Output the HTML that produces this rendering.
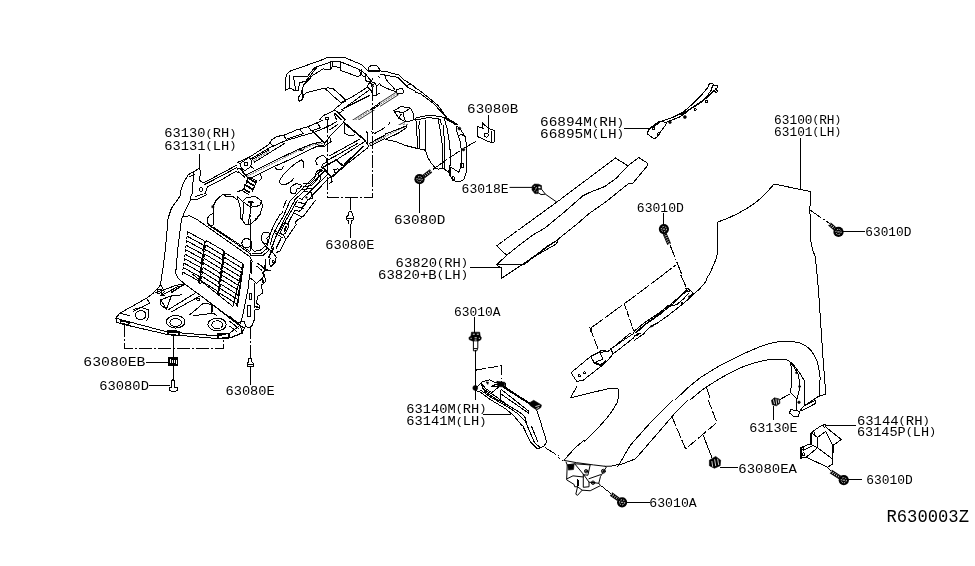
<!DOCTYPE html>
<html><head><meta charset="utf-8">
<style>
html,body{margin:0;padding:0;background:#fff;}
body{width:975px;height:566px;overflow:hidden;font-family:"Liberation Sans",sans-serif;}
svg{display:block;position:absolute;left:0;top:0;}
svg *{vector-effect:non-scaling-stroke;}
.l{shape-rendering:crispEdges;fill:none;stroke:#000;stroke-width:1;stroke-linejoin:round;stroke-linecap:round;}
.t{fill:none;stroke:#000;stroke-width:0.8;}
.d{shape-rendering:crispEdges;fill:none;stroke:#000;stroke-width:1;stroke-dasharray:13 2 2 2;}
.f{fill:#000;stroke:#000;stroke-width:0.6;}
.w{fill:#fff;stroke:#000;stroke-width:1;stroke-linejoin:round;}
text{font-family:"Liberation Mono",monospace;fill:#000;}
svg{will-change:transform;transform:translateZ(0);}
</style></head><body>
<svg width="975" height="566" viewBox="0 0 975 566">
<rect width="975" height="566" fill="#fff"/>
<defs>
<clipPath id="cp_L1" clipPathUnits="userSpaceOnUse"><polygon points="270,40 416,40 416,144 270,144"/></clipPath>
<clipPath id="cp_L2" clipPathUnits="userSpaceOnUse"><polygon points="415,60 560,60 560,164 415,164"/></clipPath>
<clipPath id="cp_L3" clipPathUnits="userSpaceOnUse"><polygon points="140,95 270,95 270,144 290,144 290,194 140,194"/></clipPath>
<clipPath id="cp_L4" clipPathUnits="userSpaceOnUse"><polygon points="290,144 410,144 410,164 452,164 452,224 290,224"/></clipPath>
<clipPath id="cp_L5" clipPathUnits="userSpaceOnUse"><polygon points="95,194 262,194 262,274 95,274"/></clipPath>
<clipPath id="cp_L6" clipPathUnits="userSpaceOnUse"><polygon points="262,194 290,194 290,224 392,224 392,274 262,274"/></clipPath>
<clipPath id="cp_L9" clipPathUnits="userSpaceOnUse"><polygon points="80,354 262,354 262,430 80,430"/></clipPath>
<clipPath id="cp_R5" clipPathUnits="userSpaceOnUse"><polygon points="634,300 880,300 880,442 744,442 744,400 634,400"/></clipPath>
<clipPath id="cp_R2" clipPathUnits="userSpaceOnUse"><polygon points="470,212 714,212 714,300 634,300 634,332 470,332"/></clipPath>
<clipPath id="cp_N1" clipPathUnits="userSpaceOnUse"><polygon points="237,120 392,120 392,214 237,214"/></clipPath>
<clipPath id="cp_N2" clipPathUnits="userSpaceOnUse"><polygon points="385,125 477,125 477,183 385,183"/></clipPath>
<clipPath id="cp_S3" clipPathUnits="userSpaceOnUse"><polygon points="465,379 550,379 550,426 465,426"/></clipPath>
<clipPath id="cp_S4" clipPathUnits="userSpaceOnUse"><polygon points="610,275 710,275 710,333 610,333"/></clipPath>
<clipPath id="cp_N5" clipPathUnits="userSpaceOnUse"><polygon points="280,52 380,52 380,110 280,110"/></clipPath>
<clipPath id="cp_N6" clipPathUnits="userSpaceOnUse"><polygon points="250,214 283,214 283,200 325,200 325,258 250,258"/></clipPath>
<clipPath id="cp_S7" clipPathUnits="userSpaceOnUse"><polygon points="558,456 612,456 612,497 558,497"/></clipPath>
<clipPath id="cp_L7" clipPathUnits="userSpaceOnUse"><polygon points="90,274 300,274 300,354 90,354"/></clipPath>
</defs>
<g clip-path="url(#cp_L1)">
<g transform="translate(270,50) scale(0.16615)">
<!-- flap outer -->
<path class="l" d="M95,245 L95,150 L120,125 L350,45 L445,45 L520,70 L588,112"/>
<path class="l" d="M590,120 L592,100 L612,92 L640,95 L652,125 L640,135"/>
<path class="l" d="M652,125 L700,130 L780,152 L805,180 L850,205 L900,250 L975,300"/>
<path class="l" d="M640,140 L690,150 L770,165 L800,195 L830,225 L880,250 L975,325"/>
<path class="l" d="M690,150 L700,180 L750,235"/>
<path class="l" d="M655,205 L700,230 L755,250"/>
<path class="l" d="M800,195 L820,215 L850,205"/>
<!-- flap left/bottom -->
<path class="l" d="M95,245 L150,240 L140,165 L235,150 L270,108 L365,72 L445,72 L520,95 L575,125 L612,155 L640,185"/>
<path class="l" d="M150,240 L175,250 L180,205 L215,190 L240,160"/>
<path class="l" d="M170,275 L195,260 L198,292 L175,310 Z"/>
<path class="l" d="M195,262 L215,250 L300,232 L345,228 L378,240 L460,300"/>
<path class="l" d="M350,250 L435,312"/>
<path class="l" d="M365,72 L365,102 L383,100 L383,74"/>
<path class="l" d="M425,75 L425,118 L520,155 L548,150 L545,108"/>
<path class="l" d="M575,127 L575,185 L598,197"/>
<!-- mount hole -->
<path class="l" d="M590,215 L600,195 L640,190 L655,212 L655,270 L630,280 L612,245 L592,232 Z"/>
<circle class="l" cx="618" cy="215" r="10"/><circle class="f" cx="618" cy="215" r="4"/>
<!-- diagonal beams -->
<path class="l" d="M395,362 L588,222 M420,378 L605,248 M440,352 L596,238" />
<path class="l" d="M400,368 L580,548 M395,385 L440,430" />
<path class="l" style="stroke-width:1.5" d="M440,440 L560,548"/>
<path class="l" d="M580,490 L580,560 L600,548 L600,490"/>
<path class="l" style="stroke-width:0.7;stroke-dasharray:1 2" d="M500,430 L765,262"/>
<path class="l" style="stroke-width:0.8" d="M496,423 L758,255 M506,438 L772,270"/>
<path class="l" d="M760,238 L800,230 L802,258 L766,266 Z"/>
<path class="l" style="stroke-width:0.7;stroke-dasharray:1 2" d="M612,548 L820,440"/>
<path class="l" style="stroke-width:0.8" d="M606,540 L813,432 M620,556 L827,448"/>
<!-- block -->
<path class="l" d="M745,365 L790,340 L845,350 L865,390 L860,425 L815,432 L775,410 Z"/>
<path class="l" d="M745,365 L800,378 L845,350 M800,378 L815,432 M775,410 L790,385"/>
<!-- right side -->
<path class="l" d="M870,420 L975,398 M880,435 L975,412"/>
<path class="l" d="M885,440 L885,566 M905,438 L905,566 M935,430 L940,566"/>
<!-- lower-left arm -->
<path class="l" d="M0,545 L40,520 L100,500 L230,450 L300,420 L320,395 L392,362"/>
<path class="l" d="M60,566 L100,530 L180,492 L250,470 L300,450"/>
<path class="l" d="M180,492 L200,515 M240,465 L265,490 M100,530 L130,550"/>
<path class="l" d="M200,515 L300,470 L350,450 L430,440"/>
<path class="l" style="stroke-width:1.5" d="M265,490 L330,560 M350,470 L420,455"/>
<path class="l" d="M335,405 L350,405 L350,418 L335,418 Z M345,418 L345,470"/>
<path class="l" d="M385,380 L400,420 L385,440"/>
<path class="l" d="M340,520 L440,440 M355,535 L450,450 M330,566 L345,520"/>
<!-- hooks -->
<path class="l" d="M600,490 L622,500 L700,458 L715,435"/>
<path class="l" d="M450,440 L450,500 L470,520 L515,508"/>
<path class="d" d="M618,228 L618,566"/>
</g>
</g>
<g clip-path="url(#cp_L2)">
<g transform="translate(390,70) scale(0.16615)">
<path class="l" d="M130,90 L200,140 L290,215 L345,290 L395,320 L430,355"/>
<path class="l" style="stroke-width:1.6" d="M330,285 L380,318 L425,352"/>
<path class="l" d="M90,125 L180,140 L260,200 L340,285"/>
<path class="l" d="M150,290 L230,272 L310,280 L335,295 L380,318"/>
<path class="l" d="M150,302 L230,286 L300,296"/>
<path class="l" d="M160,310 L165,470 M180,308 L180,475 M215,305 L215,490"/>
<path class="l" d="M290,300 L315,420 L320,566 M302,300 L330,420 L337,566 M330,300 L350,400 L362,566"/>
<path class="l" d="M400,340 L420,400 L425,566 M430,360 L455,410 L465,470 L465,566"/>
<circle class="f" cx="420" cy="355" r="5"/><circle class="f" cx="441" cy="480" r="5"/>
<path class="d" d="M515,430 L300,566"/>
<path class="l" d="M0,430 L70,440 L160,470 L215,490 L250,566"/>
<!-- clip 63080B -->
<path class="l" d="M525,340 L560,352 L556,318 L590,350 L630,365 L630,432 L610,438 L525,400 Z"/>
<path class="l" d="M590,350 L590,380 M610,370 L610,438"/>
<circle class="l" cx="580" cy="392" r="12"/>
<path class="l" d="M595,272 L595,350"/>
</g>
</g>
<g clip-path="url(#cp_L3)">
<g transform="translate(150,100) scale(0.16615)">
<path class="l" d="M297,325 L297,410"/>
<path class="l" d="M180,566 L200,500 L230,450 L265,430 L297,412 L307,430 L295,480 L320,500 L545,380 L600,340 L700,280 L760,225 L820,205 L900,170 L975,145"/>
<path class="l" d="M265,432 L258,500 L255,566 M240,462 L270,447"/>
<path class="l" d="M330,508 L420,462 L540,397 M345,524 L440,474 L520,428 M330,566 L345,524"/>
<path class="l" d="M545,380 L595,345 L612,365 L606,400 L572,426 L548,410 Z"/>
<path class="l" d="M568,378 L585,376 L586,392 L569,394 Z"/>
<path class="l" d="M612,365 L700,310 L740,280 L800,245 L900,210 L975,185"/>
<path class="l" d="M800,212 L815,242 M905,172 L925,200 M740,240 L760,272 M700,282 L715,300"/>
<path class="l" style="stroke-width:1.6" d="M620,358 L720,292 L800,252"/>
<path class="l" style="stroke-width:1.4" d="M600,470 L700,410 L800,370 L900,310 L975,275"/>
<path class="l" d="M610,482 L700,425 L800,385 L975,292"/>
<path class="l" d="M520,428 L560,462 L600,470 M545,412 L580,455"/>
<path class="l" d="M740,400 L760,420 L800,410 L800,385"/>
<ellipse class="l" cx="307" cy="539" rx="8" ry="13"/>
<path class="l" d="M975,372 Q930,345 880,365 Q820,400 785,470 Q775,510 810,515 Q850,505 870,470"/>
<path class="l" d="M900,360 Q935,375 925,425"/>
<path class="l" d="M850,566 Q845,530 880,512 Q930,495 975,510 M880,566 Q880,540 910,530 Q945,522 975,530"/>
<!-- fastener -->
<path class="l" style="stroke-width:1.5" d="M590,470 L610,462 L640,480 L635,520 L620,566 M575,520 L600,490 L630,500 M570,545 L610,520 L630,540 M585,566 L600,540"/>
<path class="l" d="M660,450 L665,480 L640,490"/>
</g>
</g>
<g clip-path="url(#cp_L4)">
<g transform="translate(290,130) scale(0.16615)">
<path class="d" d="M225,90 L225,405 L497,405 L497,100 M363,405 L363,482"/>
<!-- clip 63080E -->
<path class="l" d="M355,490 L371,490 L375,515 L385,520 L385,540 L372,545 L372,566 M355,490 L351,515 L341,520 L341,540 L354,545 L354,566 M341,530 L385,530"/>
<!-- bolt 63080D -->
<path class="d" d="M845,245 L950,180"/>
<path class="l" d="M780,322 L780,497"/>
<!-- liner lower edge -->
<path class="l" d="M580,60 L680,85 L780,100 L820,130 L840,170 L870,215 L900,235 L930,230 L975,270"/>
<path class="l" d="M765,0 L770,100 M780,0 L783,100 M815,0 L820,125 M905,0 L925,100 L950,200 L972,290 M960,215 L975,225"/>
<!-- beams -->
<path class="l" style="stroke-width:1.5" d="M380,0 L445,55"/>
<path class="l" d="M330,0 L345,25 L370,30 M460,0 L460,80 L490,97 L490,30 M470,0 L470,40"/>
<path class="l" style="stroke-width:1.4" d="M480,75 L660,0"/>
<path class="l" d="M490,95 L680,15 M485,60 L600,5"/>
<path class="l" d="M445,60 L250,195 M440,78 L290,182"/>
<path class="l" style="stroke-width:1.5" d="M470,95 L320,225"/>
<path class="l" d="M420,65 L300,100 L235,140 M400,40 L290,85 L235,120"/>
<path class="l" style="stroke-width:1.4" d="M215,215 L280,190 L320,230 L250,285 L230,275 Z"/>
<path class="l" d="M262,242 L285,236 L288,250 L266,256 Z"/>
<path class="l" d="M230,275 L250,300 L240,320 L225,330"/>
<!-- left arm -->
<path class="l" d="M0,75 L100,30 L140,0 M0,55 L80,20 L100,0"/>
<path class="l" style="stroke-width:1.4" d="M140,20 L215,80 M0,160 L150,88 L215,78"/>
<path class="l" d="M0,175 L150,100 L215,95 M215,30 L225,90"/>
<path class="l" d="M215,200 Q150,200 160,170 Q185,140 215,175"/>
<path class="l" d="M0,185 L50,180 L80,195 L85,220 L70,238"/>
<path class="l" d="M0,345 L60,330 L120,320 L160,260 L200,235"/>
<path class="l" d="M0,400 L80,370 L140,340 L215,270"/>
<path class="l" style="stroke-width:1.4" d="M0,470 L110,390 L160,370 L225,300"/>
<path class="l" d="M40,566 L130,450 L225,340 M0,520 L100,440 L140,400"/>
<path class="l" d="M0,350 Q30,320 60,345 M20,440 L60,480 L100,440 M90,400 L110,420 L100,440"/>
<path class="l" d="M20,470 L80,530 L40,566 M0,500 L50,550"/>
</g>
</g>
<g clip-path="url(#cp_L5)">
<g transform="translate(100,180) scale(0.16615)">
<path class="l" d="M515,0 L480,100 L430,170 L410,230 L395,400 L375,566"/>
<path class="l" d="M560,0 L545,120 L510,190 L490,240 L470,400 L455,566"/>
<path class="l" d="M545,120 L590,115 L640,90 L680,40 L730,0 M575,100 L620,85 L650,50 L700,20 L720,0 M600,0 L630,15 L660,0"/>
<ellipse class="l" cx="608" cy="55" rx="9" ry="13"/>
<path class="l" d="M500,222 L540,215 L580,235 L900,460 L915,490 L910,566"/>
<!-- curve -->
<path class="l" d="M740,85 L700,120 L680,160 L682,200 Q640,215 645,255 Q655,280 685,270 L682,200"/>
<path class="l" d="M650,270 L690,295 L830,390 L905,445 M685,285 L905,432"/>
<path class="l" d="M740,85 L760,100 L800,100 L840,130 M750,90 L830,78 L870,60"/>
<rect class="f" x="673" y="155" width="12" height="12"/>
<!-- hex cylinder -->
<path class="l" d="M850,135 L880,108 L935,105 L968,130 L960,160 L900,170 L850,135 L848,230 L875,268 L930,266 L975,200"/>
<path class="l" d="M860,150 L860,245 M900,170 L895,268 M885,130 L925,128"/>
<path class="l" style="stroke-width:1.5" d="M930,266 L975,185"/>
<path class="d" d="M905,140 L905,566"/>
<circle class="l" cx="882" cy="380" r="28"/>
<path class="l" style="stroke-width:1.7" d="M880,0 L930,45 L975,30 M870,40 L900,70 L950,60"/>
<path class="l" d="M920,420 L975,432 M915,400 L975,410 M945,500 L975,520 M945,520 L975,545"/>
<path class="l" d="M965,340 L965,380"/>
</g>
</g>
<g clip-path="url(#cp_L6)">
<g transform="translate(230,180) scale(0.16615)">
<!-- clip -->
<path class="l" d="M717,190 L733,190 L737,215 L747,220 L747,240 L734,245 L734,262 L716,262 L716,245 L703,240 L703,220 L713,215 Z M703,230 L747,230"/>
<path class="l" d="M725,262 L725,345"/>
<!-- diagonal strip -->
<path class="l" d="M590,20 L520,110 L440,210 L400,250 L385,290 L340,350 L300,430 L250,440"/>
<path class="l" d="M470,60 L370,110 L320,170 L250,310 L215,420"/>
<path class="l" d="M560,10 L500,80 L420,180 M540,0 L480,70 L400,130 L340,180 L270,310"/>
<path class="l" d="M500,0 L450,60 L390,100 M400,130 L440,210 M385,150 L420,215 L400,250"/>
<path class="l" d="M350,185 L290,300 L240,400 M365,200 L310,310 L260,410 M330,350 L280,440"/>
<path class="l" d="M270,310 L330,345 M262,322 L322,358"/>
<path class="l" style="stroke-width:1.7" d="M340,270 L325,305"/>
<path class="l" d="M460,95 L470,120 L450,130 M490,85 L500,105"/>
<circle class="f" cx="462" cy="102" r="5"/>
<!-- lobes -->
<path class="l" d="M295,0 Q300,30 335,30 Q365,25 380,0"/>
<path class="l" d="M390,90 Q350,80 365,45 Q395,15 435,40 Q440,55 400,62 Z"/>
<path class="l" d="M222,380 Q185,380 190,345 Q205,310 240,322 Q235,345 225,345 Z"/>
<circle class="l" cx="100" cy="382" r="28"/>
<path class="l" d="M0,360 L120,450 L130,566 M0,385 L105,465"/>
<path class="l" d="M140,425 L200,430 L240,400 M135,445 L200,448 L245,418"/>
<path class="l" d="M250,432 L272,460 L276,492 L245,522 L235,500 L250,440"/>
<circle class="l" cx="260" cy="490" r="6"/>
<path class="l" style="stroke-width:1.5" d="M170,500 L210,540 L195,566 M210,540 L240,545 M215,480 L210,540"/>
<path class="l" d="M0,450 L75,510 L70,566 M0,480 L60,525 M0,510 L55,550"/>
</g>
</g>
<g clip-path="url(#cp_L7)">
<g transform="translate(100,260) scale(0.16615)">
<path class="l" d="M380,0 L365,150 L320,200 L280,230 L120,320 L95,350 L100,375 L130,385 L400,447 L700,472 L790,466 L850,440 L872,410 L840,395"/>
<path class="l" d="M455,0 L450,60 L470,110 L510,145 L600,210 L840,395"/>
<path class="l" d="M100,352 L400,432 L710,457 L780,440 L840,395"/>
<path class="l" d="M500,40 L800,280 L855,60 M910,0 L890,180 L860,330 L840,395 M600,210 L620,225 L800,360"/>
<!-- tray top -->
<path class="l" d="M320,200 L365,150 L388,190 L365,215 M330,198 L460,152 L510,145 M365,215 L470,160"/>
<path class="l" d="M345,178 L368,175 L370,198 L347,200 Z"/>
<path class="l" style="stroke-width:1.5" d="M372,205 L385,215 M430,195 L500,150"/>
<path class="l" d="M365,240 L430,215 L490,210 M365,240 L400,295 L430,215 M365,240 L365,270 L400,295"/>
<path class="l" d="M410,300 L575,198 M430,312 L605,215 M540,330 L620,262 L672,266 M560,336 L680,320 L700,332"/>
<path class="l" d="M582,232 L598,230 L600,242 L584,244 Z M672,266 L672,320 M680,270 L680,315"/>
<path class="l" d="M120,320 L180,335 M280,230 L300,260 L200,310"/>
<!-- circles -->
<ellipse class="l" cx="245" cy="332" rx="32" ry="27"/><path class="l" d="M200,300 Q250,275 290,300 Q300,340 280,365"/>
<ellipse class="l" cx="455" cy="376" rx="35" ry="24"/><ellipse class="l" cx="455" cy="372" rx="56" ry="38"/>
<ellipse class="l" cx="705" cy="390" rx="32" ry="24"/><ellipse class="l" cx="705" cy="388" rx="55" ry="38"/>
<!-- clips -->
<path class="l" style="stroke-width:1.6" d="M125,365 L175,375 L172,392 L122,380 Z M410,425 L475,430 L475,455 L410,448 Z M710,445 L775,442 L775,470 L710,472 Z"/>
<path class="d" d="M148,388 L148,530 L745,530 L745,472"/>
<path class="l" d="M440,450 L440,566"/>
<path class="d" d="M905,400 L905,566"/>
<g transform="translate(782.4,0)">
<path class="l" d="M170,20 L230,50 L245,0 M170,20 L200,60 L215,60 L230,50"/>
<path class="l" d="M215,60 L195,110 L160,140 L125,110 M200,60 L215,130 L190,150 L195,200 L165,220 L160,260 L180,275 L175,295 L150,300 L150,350 L135,390 L120,410 L95,400 L85,370 L50,375"/>
<path class="l" d="M105,275 L125,275 L125,340 L105,340 Z M115,200 L130,200 L130,240 L115,240 Z M150,140 L145,290"/>
<path class="l" style="stroke-width:1.5" d="M195,110 L200,135 M150,280 L170,285"/>
<path class="l" d="M0,340 L60,390 L75,440 L0,470 M0,370 L50,410 M0,400 L40,430"/>
</g>
</g>
</g>
<g clip-path="url(#cp_L9)">
<g transform="translate(90,330) scale(0.16615)">
<path class="l" d="M502,144 L502,300"/>
<path class="l" style="stroke-width:1.5" d="M476,168 L526,168 L526,212 L476,212 Z"/>
<path class="l" d="M488,178 L516,178 L516,202 L488,202 Z M526,168 L516,178 M476,212 L488,202"/>
<path class="l" d="M340,193 L474,193"/>
<path class="l" d="M355,333 L480,333"/>
<path class="l" d="M492,305 L500,298 L508,305 L508,345 L526,347 L528,362 L502,373 L478,362 L478,347 L492,345 Z"/>
<path class="d" d="M965,144 L965,172"/>
<path class="l" d="M957,172 L973,172 L975,195 L985,200 L985,220 L945,220 L945,200 L953,195 Z M945,210 L985,210"/>
<path class="l" d="M965,225 L965,330"/>
</g>
</g>
<g>
<path class="l" d="M187.2,234.3 L187.8,231.9 L203.9,240.5 L204.4,242.4 M186.7,238.7 L187.3,236.3 L203.3,245.0 L203.8,246.9 M186.1,243.2 L186.7,240.8 L202.7,249.5 L203.2,251.4 M185.6,247.7 L186.2,245.3 L202.1,253.9 L202.6,255.8 M185.0,252.1 L185.6,249.7 L201.4,258.4 L201.9,260.3 M184.5,256.6 L185.1,254.2 L200.8,262.9 L201.3,264.8 M183.9,261.1 L184.5,258.7 L200.2,267.3 L200.7,269.2 M183.4,265.5 L184.0,263.1 L199.6,271.8 L200.1,273.7 M182.8,270.0 L183.4,267.6 L199.0,276.3 L199.5,278.2 M182.3,274.5 L182.9,272.1 L198.4,280.7 L198.9,282.6 M205.8,242.9 L206.4,240.5 L223.1,250.4 L223.6,252.3 M205.2,247.4 L205.8,245.0 L222.4,254.9 L222.9,256.8 M204.7,251.9 L205.3,249.5 L221.8,259.4 L222.3,261.3 M204.1,256.4 L204.7,254.0 L221.1,263.9 L221.6,265.8 M203.6,260.9 L204.2,258.5 L220.5,268.4 L221.0,270.3 M203.0,265.4 L203.6,263.0 L219.8,272.9 L220.3,274.8 M202.5,269.9 L203.1,267.5 L219.1,277.4 L219.6,279.3 M201.9,274.4 L202.5,272.0 L218.5,281.9 L219.0,283.8 M201.4,278.9 L202.0,276.5 L217.8,286.4 L218.3,288.3 M200.8,283.4 L201.4,281.0 L217.2,290.9 L217.7,292.8 M224.4,255.3 L225.0,252.9 L242.3,263.4 L242.8,265.3 M223.8,259.8 L224.4,257.4 L241.6,267.9 L242.1,269.8 M223.2,264.2 L223.8,261.8 L241.0,272.3 L241.5,274.3 M222.6,268.7 L223.2,266.3 L240.3,276.8 L240.8,278.7 M222.0,273.2 L222.6,270.8 L239.6,281.3 L240.1,283.2 M221.4,277.6 L222.0,275.2 L239.0,285.7 L239.5,287.7 M220.8,282.1 L221.4,279.7 L238.3,290.2 L238.8,292.1 M220.2,286.6 L220.8,284.2 L237.7,294.7 L238.2,296.6 M219.6,291.0 L220.2,288.6 L237.0,299.1 L237.5,301.1 M219.0,295.5 L219.6,293.1 L236.3,303.6 L236.8,305.5"/>
<path class="l" style="stroke-width:1.5" d="M204.9,241.5 L199.4,283.1"/>
<path class="l" style="stroke-width:1.5" d="M224.1,251.4 L218.2,293.3"/>
<path class="l" style="stroke-width:1.5" d="M243.3,264.4 L237.3,306.0"/>
</g>
<g>
<path class="l" style="stroke-dasharray:16 1.5" d="M615.4,158 L556.5,202.3 L496.6,245.8"/>
<path class="l" d="M615.4,158 L627.9,165.8 L638.7,157.5 L647.8,163.3 L646.8,166.5 L632.9,183.2 L627.9,184.1 L606.3,201.5 L589.7,213.1 L578.1,223.1 L556.5,240.5 L523,264 L501.6,278.3 L501.5,268.3 L496.6,264.8 L506.7,255.3 L496.6,245.8"/>
<path class="l" d="M627.9,165.8 L616.3,178.2 L604.6,186.6 L589.7,192.4 L583,195.7 L563.1,213.1 L544.8,228.1 L533.2,234.7 L520.7,244 L506.7,255.3"/>
<path class="l" d="M496.6,264.8 L523.9,264.9 L547.7,245.7 L557.8,240.2 L556.5,243.9 L530.2,259 L523.9,264.9"/>
</g>

<g>
<path class="l" d="M624.7,128.2 L651,128.2"/>
<path class="l" d="M651.5,126.9 L657.7,122.3 L663.8,120.3 L673.1,117.2 L683.3,112.1 L691.5,104.9 L701.8,94.6 L708,87.4 L709,84.4 L711,83.1 L713.1,83.8 L714.1,85.9 L717.2,85.4 L717.7,87.4 L715.6,89 L717.7,91 L716.2,92.6 L714.1,90.5"/>
<path class="l" d="M713.1,84.4 L711,90.5 L705.9,97.7 L699.7,102.8 L691.5,107.9 L685.4,113.1 L679.2,117.2 L671,120.3 L664.9,122.8"/>
<path class="l" d="M714.1,90.5 L708,96.7 L701.8,101.8 L695.6,105.9 L687.4,111 L680,115"/>
<path class="l" d="M651,127.7 L648.5,129.7 L647.4,133.8 L650,135.9 L654.1,138.8 L656.7,137.4 L659.7,132.8 L665.9,124.6 L666.4,123.1 L662.8,121.5 L657.7,122.6 Z"/>
<path class="l" style="stroke-width:1.8" d="M652.1,127.7 L658.2,123.1"/>
<circle class="l" cx="653.8" cy="128.4" r="1.2"/><circle class="l" cx="658.2" cy="134.1" r="1.3"/>
<circle class="f" cx="684.9" cy="117" r="1.5"/><circle class="f" cx="670" cy="122.3" r="1.3"/>
<circle class="l" cx="695.1" cy="109.6" r="1.1"/><circle class="l" cx="706.4" cy="101.3" r="1.1"/>
<path class="l" style="stroke-width:1.5" d="M685.6,112.8 L688.5,109.8 M693,107.5 L698,104"/>
</g>

<g clip-path="url(#cp_N1)">
<g transform="translate(230,120) scale(0.16615)">
<rect x="0" y="0" width="975" height="566" fill="#fff" stroke="none"/>
<!-- upper arm top edge -->
<path class="l" d="M0,275 L70,245 L130,215 L230,150 L250,120 L280,100 L330,90 L400,60 L470,40 L540,10 L560,0"/>
<path class="l" d="M320,92 L340,116 L440,82 L420,56 M470,40 L490,66 L545,46 L525,18 M240,135 L260,158"/>
<path class="l" d="M130,232 L240,166 L330,126 L430,96 L500,76 L560,52 L600,30"/>
<path class="l" style="stroke-width:0.7;stroke-dasharray:1 2" d="M140,246 L235,188"/>
<path class="l" d="M135,238 L232,180 M146,254 L240,196 L330,140"/>
<!-- teardrop -->
<path class="l" d="M60,262 L115,225 L130,245 L125,280 L90,305 L68,290 Z"/>
<path class="l" d="M85,256 L105,254 L106,274 L86,276 Z"/>
<path class="l" d="M68,290 L75,315 L100,340 M125,280 L140,290"/>
<!-- lower band -->
<path class="l" style="stroke-width:0.7;stroke-dasharray:1 2" d="M105,338 L200,290 L300,240 L400,190 L500,150 L560,140"/>
<path class="l" d="M100,330 L200,280 L300,230 L400,182 L500,142 L560,130 M130,348 L270,278 L330,252 L420,208 L520,160 L570,150"/>
<path class="l" d="M0,310 L60,290 L100,335 M0,330 L50,312 L90,345"/>
<path class="l" d="M415,170 L430,186 L446,176"/>
<path class="l" d="M270,280 L280,296 L310,300 L322,280"/>
<path class="l" d="M180,320 L192,350 L176,366"/>
<!-- hex top -->
<path class="l" d="M75,490 L100,465 L155,462 L190,488 L180,515 L125,525 Z"/>
<path class="l" style="stroke-width:1.5" d="M110,495 L140,495 M125,495 L125,520"/>
<path class="l" d="M65,540 L65,566 M80,500 L80,566 M125,525 L125,566 M190,488 L195,520 L180,566"/>
<path class="l" d="M0,462 L50,466 L75,490 M30,440 L90,412 M0,440 L40,450 L65,540"/>
<!-- blob -->
<path class="l" d="M385,350 Q360,385 320,390 Q295,385 300,365 Q310,335 360,290 Q400,255 430,240 Q448,248 445,288"/>
<!-- lobes -->
<path class="l" d="M525,270 Q510,250 522,232 Q540,212 565,216 Q585,228 580,255 L560,265 L550,285"/>
<path class="l" d="M362,420 Q365,395 395,385 Q425,382 432,395 L420,410 L400,416 L395,445 L370,445 Z"/>
<!-- hoses -->
<path class="l" d="M440,385 L480,380 L510,350 L520,310 L550,295 M440,400 L490,395 L525,360 L535,320 L560,300 M430,420 L500,410 L540,370 L548,335"/>
<!-- diagonal strip -->
<path class="l" d="M560,290 L350,500 L310,566 M600,345 L470,480 L400,566 M575,302 L380,490 L340,566 M585,330 L440,470 L370,566"/>
<path class="l" d="M440,430 L490,436 L500,470 L465,482 M405,510 L440,530 L452,500 M420,470 L455,500 M380,540 L410,560"/>
<circle class="f" cx="460" cy="466" r="5"/>
<!-- bracket box -->
<path class="l" style="stroke-width:1.6" d="M560,285 L640,240 L685,280 L610,345 Z"/>
<path class="l" d="M625,300 L650,294 L653,312 L630,318 Z M610,345 L615,370 L600,380"/>
<!-- beam -->
<path class="l" d="M640,240 L810,130 M685,280 L830,166 L836,150 M600,215 L780,116 M590,240 L640,214 L770,140"/>
<path class="l" style="stroke-width:1.8" d="M690,268 L800,160"/>
<!-- top right box -->
<path class="l" style="stroke-width:1.7" d="M500,70 L570,140 M685,15 L810,120"/>
<path class="l" d="M570,140 L600,100 L680,20 L690,0 M690,20 L690,80 L720,96 L750,90 M810,120 L830,150 L830,80 L820,70 M600,100 L610,130 L580,146 M520,140 L540,160 L570,160 L580,146"/>
<path class="l" d="M560,52 L590,40 L640,10 M600,60 L650,25"/>
<!-- right band -->
<path class="l" style="stroke-width:0.7;stroke-dasharray:1 2" d="M842,148 L975,80"/>
<path class="l" d="M838,140 L975,70 M846,156 L975,90"/>
<path class="l" d="M850,70 L872,80 L950,36 L962,14"/>
<!-- dash-dot -->
<path class="d" d="M585,0 L585,465 L858,465 L858,0 M725,465 L725,540"/>
<path class="l" d="M717,552 L733,552 L736,566 M717,552 L714,566"/>
</g>
</g>
<g clip-path="url(#cp_N2)">
<g transform="translate(385,125) scale(0.10256)">
<rect x="0" y="0" width="975" height="566" fill="#fff" stroke="none"/>
<path class="l" d="M0,90 L130,40 L210,8 M0,140 L130,80 L210,25 L210,0"/>
<path class="l" style="stroke-width:0.7;stroke-dasharray:1 2" d="M0,112 L200,14"/>
<path class="l" d="M0,140 L100,160 L200,200 L320,230 L380,240 L400,265 L420,320 L450,370 L490,420 L520,430 L565,420"/>
<path class="l" d="M305,0 L320,230 M330,0 L340,232 M395,0 L400,265"/>
<path class="l" d="M530,0 L560,200 L565,420 M570,0 L580,200 L580,420 M600,0 L625,150 L640,300 L635,400"/>
<path class="l" d="M565,420 L620,460 L630,400 L640,500 L660,540 L720,555 L770,530 L790,470 L795,200 L780,110 L740,50 L700,10"/>
<path class="l" d="M700,10 L700,60 L730,150 L745,250 L740,400 L720,460 L640,410 M720,100 L750,95 L780,110"/>
<path class="l" style="stroke-width:1.6" d="M630,400 L635,490"/>
<circle class="f" cx="725" cy="35" r="14"/><circle class="f" cx="765" cy="240" r="13"/>
<path class="l" d="M745,375 L765,375 L765,415 L745,415 Z"/>
<ellipse class="l" cx="668" cy="520" rx="10" ry="18" transform="rotate(-25 668 520)"/>
<path class="d" d="M885,160 L740,245 L600,340 L445,448"/>
</g>
</g>
<g clip-path="url(#cp_N5)">
<g transform="translate(280,52) scale(0.10256)">
<rect x="0" y="0" width="975" height="566" fill="#fff" stroke="none"/>
<path class="l" d="M50,375 L50,290 L65,215 L90,190 L400,80 L470,50 L620,50 L800,125 L850,180"/>
<path class="l" d="M860,180 L865,150 L890,130 L940,130 L965,160 L975,185"/>
<path class="l" style="stroke-width:1.6" d="M860,186 L975,186"/>
<path class="l" d="M90,228 L95,350 M50,375 L95,350 L150,380 L180,375"/>
<path class="l" d="M130,240 L270,235 L340,150 L500,95 L590,95 L760,165 L830,210 L870,260 L895,290"/>
<path class="l" d="M130,240 L155,375 L180,375 L190,300 L250,285 L300,225 L355,155"/>
<path class="l" d="M490,95 L490,170 L515,140 L515,95 M300,240 L420,165 L490,170 M515,140 L585,150 L590,95"/>
<path class="l" d="M590,150 L590,180 L760,240 L790,225 L770,165 M790,170 L800,230 L830,240 M830,210 L835,280 L880,295 L905,260"/>
<path class="l" d="M215,380 L230,320 L300,250"/>
<path class="l" d="M230,420 L260,395 L420,355 L470,350 L520,360 L590,420 L640,470 L700,440 L850,345"/>
<path class="l" d="M440,360 L490,400 L530,440 L590,490 L640,480"/>
<path class="l" d="M180,440 L215,395 L230,430 L215,465 L185,480 Z"/>
<path class="l" style="stroke-width:1.6" d="M215,380 L225,440"/>
<path class="l" d="M640,470 L530,560 M600,566 L720,480 L870,370 M640,540 L780,470 L880,420"/>
<path class="l" d="M850,330 L870,305 L920,300 L945,330 L940,420 L900,430 L895,380 L860,350 Z"/>
<circle class="l" cx="903" cy="328" r="14"/><circle class="f" cx="903" cy="328" r="6"/>
<path class="d" d="M903,350 L903,566"/>
<path class="l" d="M945,330 L975,300 M960,240 L975,250 M940,420 L975,400"/>
<path class="l" d="M880,560 L975,495 M890,566 L975,512"/>
</g>
</g>
<g clip-path="url(#cp_N6)">
<g transform="translate(250,200) scale(0.10256)">
<rect x="0" y="0" width="975" height="566" fill="#fff" stroke="none"/>
<path class="l" d="M640,0 L520,160 L470,190 L440,215 L450,240 L350,385 L290,500 L260,510"/>
<path class="l" d="M356,0 L330,60 L300,130 L240,230 L200,320 L175,420 L160,470"/>
<path class="l" d="M393,0 L355,90 L330,150 L270,250 L225,340 L195,440"/>
<path class="l" d="M438,0 L400,70 L340,180 L320,220 L280,300 L235,400 L205,480"/>
<path class="l" d="M462,0 L430,60 L390,130 L350,200 L310,290 L290,330 M440,100 L400,170 L370,230"/>
<path class="l" d="M440,60 L500,80 L530,50 L560,0 M470,20 L540,40 M430,100 L480,110 L520,80 M420,120 L500,165"/>
<path class="l" d="M320,230 L370,235 L375,265 L340,330 L310,335 L290,300 Z"/>
<path class="l" style="stroke-width:2" d="M352,258 L336,300"/>
<path class="l" d="M240,300 L330,345 L350,385 M250,325 L320,370 M255,350 L225,440 M300,380 L255,470"/>
<path class="l" d="M110,350 L130,320 L175,315 L200,330 L180,355 L165,375 L170,420 L140,430 L115,400 Z"/>
<path class="l" d="M20,480 L40,500 L100,490 L150,450 L165,430 M20,520 L110,520 L170,470 M0,545 L120,545 L185,490"/>
<path class="l" d="M160,460 L230,520 L260,566"/>
<path class="l" style="stroke-width:1.6" d="M230,470 L200,520 L180,566"/>
<circle class="f" cx="206" cy="500" r="9"/>
<path class="d" d="M5,0 L5,566"/>
<path class="l" d="M130,30 L120,100 L60,190 L0,240"/>
<path class="l" style="stroke-width:1.5;stroke-dasharray:2 1.5" d="M118,110 L62,186"/>
<circle class="l" cx="62" cy="186" r="7"/>
<path class="l" d="M0,300 L10,400 L20,480"/>
</g>
</g>
<g transform="translate(488,70) scale(0.25077)">
<!-- bolt 63018E -->
</g>

<g clip-path="url(#cp_R2)">
<g transform="translate(470,190) scale(0.25077)">
<path class="l" d="M0,308 L125,308"/>
<!-- bolt 63010D -->
<path class="l" d="M772,92 L772,140"/>
<path class="d" d="M797,218 L870,400"/>
<!-- phantom box -->
<path class="l" style="stroke-dasharray:14 3" d="M485,548 L615,455 L820,300"/>
<path class="l" style="stroke-dasharray:5 2" d="M485,548 L482,566 M615,455 L655,560"/>
<!-- fender edge -->
<path class="l" d="M973,295 L940,370 L880,420"/>
<!-- bracket strip -->
<path class="l" d="M870,395 L888,410 L872,435 L700,562 M865,400 L660,566 M868,420 L690,560"/>
<path class="l" style="stroke-width:1.6" d="M870,430 L880,415 M800,460 L850,440 M740,510 L790,475"/>
<path class="l" d="M18,510 L18,566"/>
</g>
</g>
<g transform="translate(390,300) scale(0.25077)">
<path class="l" d="M337,72 L337,130"/>
<!-- bolt 63010A -->
<path class="l" d="M340,202 L340,395"/>
<path class="l" style="stroke-dasharray:10 3" d="M340,280 L445,262 L445,330"/>
<!-- bracket 63140M -->
<path class="l" d="M335,345 L390,322 L445,330 L460,345 L575,415 L600,410 L606,430 L586,440 L625,566"/>
<path class="l" d="M335,345 L345,362 L380,392 L470,442 L520,482 L560,566"/>
<path class="l" d="M370,335 L400,372 L480,420 L530,460 L575,566 M390,322 L410,350 L445,345"/>
<path class="l" d="M445,350 L445,395 L540,445 L590,566 M460,345 L460,380 L555,432"/>
<path class="l" d="M555,410 L580,400 L606,428 M560,415 L585,440"/>
<path class="l" style="stroke-width:2" d="M565,408 L590,425"/>
<circle class="l" cx="340" cy="351" r="9" style="stroke-width:2"/>
<circle class="l" cx="445" cy="332" r="8" style="stroke-width:1.6"/>
<path class="l" d="M400,340 L425,335 L420,350 Z"/>
<path class="l" d="M385,457 L480,457"/>
<!-- fender tip -->
<path class="l" d="M745,345 L720,390 L800,370 L880,352 L910,355 Q918,375 905,410 Q880,460 820,520 L775,566"/>
<!-- strip end -->
<path class="l" d="M722,290 L800,225 L830,210 L870,205 L973,120 M722,290 L745,325 L770,320 L860,250 L890,215 L973,150"/>
<path class="l" d="M800,225 L815,250 L850,235 L840,215 M830,210 L845,200 L870,205 M890,215 L880,195 L973,132"/>
<circle class="l" cx="755" cy="302" r="4"/><circle class="l" cx="776" cy="290" r="4"/>
<path class="l" style="stroke-width:2" d="M815,250 L840,260 L860,245"/>
<!-- phantom -->
<path class="l" style="stroke-dasharray:10 3" d="M797,110 L835,210"/>
</g>

<g transform="translate(500,400) scale(0.25077)">
<path class="l" d="M121,167 L150,195 L175,184 L186,167 M135,167 L160,190"/>
<path class="d" d="M180,190 L260,240"/>
<path class="l" d="M336,160 L300,190 L255,240 L330,255 L420,262 L480,258 L540,235 L640,120 L700,50 L750,0"/>
<path class="l" d="M470,265 L520,180 L600,90 L690,0"/>
<!-- lower bracket -->
<path class="l" d="M265,260 L300,250 L400,262 L425,275 L420,300 L395,310 L390,340 L360,360 L310,378 L300,350 L265,320 Z"/>
<path class="l" d="M300,250 L340,290 L390,340 M340,290 L345,345 L310,378 M270,290 L300,280 L340,295 M400,262 L385,300 L395,310"/>
<path class="l" style="stroke-width:2" d="M310,322 L312,345 M275,265 L290,275"/>
<circle class="l" cx="410" cy="288" r="7"/><circle class="l" cx="346" cy="288" r="6"/><circle class="l" cx="371" cy="330" r="7"/><circle class="l" cx="282" cy="272" r="6"/>
<path class="d" d="M400,345 L448,378"/>
<path class="l" d="M508,408 L595,408"/>
<!-- phantom -->
<path class="l" style="stroke-dasharray:10 3" d="M685,65 L740,195 L865,90 L830,0"/>
<path class="l" d="M810,140 L845,230"/>
<!-- clip 63080EA -->
<path class="f" d="M835,240 L860,225 L880,240 L878,262 L855,272 L835,262 Z"/>
<path class="l" style="stroke:#fff;stroke-width:0.8" d="M845,245 L848,265 M856,238 L860,262 M868,236 L872,258"/>
<path class="l" d="M880,268 L945,268"/>
</g>

<g clip-path="url(#cp_R5)">
<g transform="translate(634,300) scale(0.25077)">
<path class="l" d="M738,0 L745,100 L755,250 L765,375 L735,385"/>
<path class="l" d="M164,399 Q210,350 265,309 Q330,265 405,230 Q455,205 505,185 Q545,170 585,165 Q625,163 660,170 Q685,180 700,195 Q720,215 730,245 Q740,280 742,310 L740,385"/>
<path class="l" d="M223,399 Q250,375 285,349 Q350,305 425,270 Q475,250 525,240 Q570,233 605,237 Q630,248 645,270 Q665,295 678,320 L681,350 L680,420"/>
<!-- liner bracket on fender -->
<path class="l" d="M625,255 L630,290 L625,370 L650,395 L662,345 L656,300 L640,270 Z M650,395 L648,440 L660,445 L675,425 L735,385"/>
<path class="l" d="M648,440 L625,438 L620,450 L637,464 L655,465 L660,445 M680,420 L725,400 L725,412 L668,442"/>
<circle class="f" cx="648" cy="290" r="4"/><circle class="f" cx="660" cy="345" r="4"/><circle class="f" cx="658" cy="408" r="5"/>
<!-- strip -->
<path class="l" d="M0,130 L215,0 M0,162 L215,12 M0,145 L200,10"/>
<path class="l" style="stroke-width:1.8;stroke-dasharray:4 6" d="M10,140 L200,18"/>
<!-- clip 63130E -->
<path class="f" d="M548,400 L560,390 L580,395 L582,412 L568,422 L552,418 Z"/>
<path class="l" style="stroke:#fff;stroke-width:0.8" d="M556,398 L560,414 M566,395 L569,416 M575,398 L577,410"/>
<path class="l" d="M585,395 L622,375 M555,425 L555,475"/>
<!-- phantom -->
<path class="l" style="stroke-dasharray:10 3" d="M290,350 L335,490 L270,540 L275,566 M150,455 L185,566"/>
</g>
</g>
<g transform="translate(731,400) scale(0.25077)">
<path class="l" d="M378,103 L495,103"/>
<path class="l" d="M370,100 L355,105 L320,130 L315,175 L278,190 L278,232 L300,228 L385,268 L405,255 L408,180 L440,158 L378,108"/>
<path class="l" d="M320,130 L345,150 L345,190 L300,228 M345,150 L378,125 L405,180 M345,190 L405,235 M315,175 L345,190 M290,200 L330,180"/>
<path class="d" d="M405,180 L405,250"/>
<circle class="l" cx="372" cy="103" r="5"/><circle class="l" cx="330" cy="132" r="5"/><circle class="l" cx="286" cy="193" r="5"/><circle class="l" cx="289" cy="216" r="5"/>
<path class="l" style="stroke-width:2" d="M320,135 L318,172 M280,195 L280,228"/>
<!-- screw 63010D -->
<path class="d" d="M385,270 L400,284"/>
<path class="l" d="M470,318 L520,318"/>
<path class="l" d="M0,268 L25,268"/>
</g>

<g transform="translate(680,100) scale(0.25077)">
<path class="l" d="M482,155 L482,358"/>
<path class="l" d="M150,566 L150,487 Q230,460 300,410 Q340,378 375,335 L520,365 L518,440 L522,566"/>
<path class="d" d="M520,440 L600,495"/>
<path class="l" d="M650,525 L735,525"/>
</g>

<g clip-path="url(#cp_S3)">
<g transform="translate(465,368) scale(0.10256)">
<rect x="0" y="0" width="975" height="566" fill="#fff" stroke="none"/>
<path class="l" d="M100,0 L100,170"/>
<path class="l" style="stroke-dasharray:10 3" d="M355,0 L355,130"/>
<path class="l" d="M100,215 L100,310"/>
<circle class="f" cx="100" cy="195" r="24"/>
<path class="f" d="M310,130 L390,140 L380,185 L320,180 Z"/>
<path class="l" d="M125,180 L170,135 L240,115 L290,140 L320,135"/>
<path class="l" d="M160,150 L200,200 L260,240 L330,185 L260,180 L300,160 L320,165"/>
<path class="f" d="M205,135 L230,140 L222,160 Z"/>
<path class="l" d="M100,220 L150,235 L250,310 L400,400 L480,470 L560,566"/>
<path class="l" d="M150,215 L260,290 L420,380 L520,450 L590,520 L610,566"/>
<path class="l" d="M175,200 L200,235 L300,300 L440,375 L560,450 L590,490 L600,540"/>
<path class="l" d="M160,160 L185,210 L290,270 L400,350"/>
<path class="l" style="stroke-width:2" d="M385,190 L620,340"/>
<path class="l" d="M355,210 L620,420 M360,260 L620,440 M350,215 L350,300 M395,155 L400,190"/>
<path class="f" d="M620,345 L670,315 L745,360 L740,385 L700,410 L640,370 Z"/>
<path class="l" style="stroke:#fff;stroke-width:0.8" d="M690,375 L725,365 M700,395 L720,385"/>
<path class="l" d="M700,410 L730,500 L750,566"/>
<path class="l" d="M180,452 L440,452"/>
</g>
</g>
<g clip-path="url(#cp_S4)">
<g transform="translate(610,275) scale(0.10256)">
<rect x="0" y="0" width="975" height="566" fill="#fff" stroke="none"/>
<path class="l" d="M960,0 L930,70 L870,140 L810,190 L760,240 L700,290 L560,400 L460,470 L400,500 L330,566"/>
<path class="l" d="M760,130 L700,190 L600,280 L450,390 L330,470 L240,545 L225,566"/>
<path class="l" d="M750,152 L610,285 L560,302 L450,402 L340,482 L250,558"/>
<path class="l" d="M770,175 L720,230 L650,290 L590,300 L480,390 L350,480 L260,560"/>
<path class="l" style="stroke-width:1.4;stroke-dasharray:2 2.5" d="M600,292 L350,476"/>
<path class="l" d="M740,130 L770,135 L810,175 L780,210 L760,240"/>
<circle class="l" cx="765" cy="156" r="10"/><circle class="l" cx="705" cy="278" r="10"/>
<path class="f" d="M765,205 L790,200 L770,232 Z"/>
<path class="f" d="M400,490 L422,500 L392,510 Z"/>
<path class="d" d="M690,0 L740,112"/>
<path class="l" style="stroke-dasharray:14 3" d="M0,380 L140,280 L510,5 L520,0"/>
<path class="l" style="stroke-dasharray:6 2.5" d="M140,280 L230,545"/>
</g>
</g>
<g clip-path="url(#cp_S7)">
<g transform="translate(550,450) scale(0.11480)">
<rect x="0" y="0" width="784" height="566" fill="#fff" stroke="none"/>
<path class="l" d="M210,0 L120,90 L230,110 L380,130 L480,142 L600,140 L690,105 L784,30 M690,0 L600,140"/>
<path class="d" d="M0,10 L112,92"/>
<path class="l" d="M140,105 L150,130 L145,260 L210,300 L215,320 L240,320 L225,385 L240,395 L280,350 L350,355 L440,310 L425,290 L440,230 L490,150 L480,142"/>
<path class="l" d="M150,130 L215,120 L290,210 L340,280 L340,320 L290,325 L290,215 M215,120 L350,130 L330,220 L290,215 M150,250 L200,225 L290,235 M340,250 L440,215 M340,280 L425,290 M280,350 L240,320"/>
<path class="l" style="stroke-width:2" d="M240,265 L240,315"/>
<path class="f" d="M155,130 L210,125 L205,170 L160,175 Z"/>
<circle class="l" cx="315" cy="185" r="15"/><circle class="l" cx="315" cy="185" r="6"/>
<circle class="l" cx="465" cy="185" r="17"/><circle class="l" cx="465" cy="185" r="7"/>
<circle class="l" cx="375" cy="285" r="15"/><circle class="l" cx="375" cy="285" r="6"/>
<path class="d" d="M440,315 L530,385"/>
</g>
</g>
<g>
<text x="164.3" y="137.4" font-size="13.4" textLength="72.0" lengthAdjust="spacingAndGlyphs">63130<tspan font-size="11.6" dy="-0.9">(</tspan><tspan font-size="13.4" dy="0.9">RH</tspan><tspan font-size="11.6" dy="-0.9">)</tspan></text>
<text x="164.3" y="149.5" font-size="13.4" textLength="72.0" lengthAdjust="spacingAndGlyphs">63131<tspan font-size="11.6" dy="-0.9">(</tspan><tspan font-size="13.4" dy="0.9">LH</tspan><tspan font-size="11.6" dy="-0.9">)</tspan></text>
<text x="467.1" y="112.9" font-size="13.4" textLength="51.2" lengthAdjust="spacingAndGlyphs">63080B</text>
<text x="540.0" y="126.4" font-size="13.4" textLength="84.1" lengthAdjust="spacingAndGlyphs">66894M<tspan font-size="11.6" dy="-0.9">(</tspan><tspan font-size="13.4" dy="0.9">RH</tspan><tspan font-size="11.6" dy="-0.9">)</tspan></text>
<text x="540.0" y="138.2" font-size="13.4" textLength="84.1" lengthAdjust="spacingAndGlyphs">66895M<tspan font-size="11.6" dy="-0.9">(</tspan><tspan font-size="13.4" dy="0.9">LH</tspan><tspan font-size="11.6" dy="-0.9">)</tspan></text>
<text x="774.1" y="123.8" font-size="13.4" textLength="67.1" lengthAdjust="spacingAndGlyphs">63100<tspan font-size="11.6" dy="-0.9">(</tspan><tspan font-size="13.4" dy="0.9">RH</tspan><tspan font-size="11.6" dy="-0.9">)</tspan></text>
<text x="774.1" y="135.9" font-size="13.4" textLength="67.1" lengthAdjust="spacingAndGlyphs">63101<tspan font-size="11.6" dy="-0.9">(</tspan><tspan font-size="13.4" dy="0.9">LH</tspan><tspan font-size="11.6" dy="-0.9">)</tspan></text>
<text x="865.3" y="235.9" font-size="13.4" textLength="46.1" lengthAdjust="spacingAndGlyphs">63010D</text>
<text x="636.8" y="212.0" font-size="13.4" textLength="47.1" lengthAdjust="spacingAndGlyphs">63010D</text>
<text x="461.6" y="192.6" font-size="13.4" textLength="47.0" lengthAdjust="spacingAndGlyphs">63018E</text>
<text x="393.9" y="224.4" font-size="13.4" textLength="51.5" lengthAdjust="spacingAndGlyphs">63080D</text>
<text x="325.3" y="249.0" font-size="13.4" textLength="49.1" lengthAdjust="spacingAndGlyphs">63080E</text>
<text x="395.6" y="267.0" font-size="13.4" textLength="72.4" lengthAdjust="spacingAndGlyphs">63820<tspan font-size="11.6" dy="-0.9">(</tspan><tspan font-size="13.4" dy="0.9">RH</tspan><tspan font-size="11.6" dy="-0.9">)</tspan></text>
<text x="378.1" y="279.1" font-size="13.4" textLength="89.9" lengthAdjust="spacingAndGlyphs">63820+B<tspan font-size="11.6" dy="-0.9">(</tspan><tspan font-size="13.4" dy="0.9">LH</tspan><tspan font-size="11.6" dy="-0.9">)</tspan></text>
<text x="454.0" y="316.3" font-size="13.4" textLength="46.5" lengthAdjust="spacingAndGlyphs">63010A</text>
<text x="406.3" y="412.8" font-size="13.4" textLength="80.2" lengthAdjust="spacingAndGlyphs">63140M<tspan font-size="11.6" dy="-0.9">(</tspan><tspan font-size="13.4" dy="0.9">RH</tspan><tspan font-size="11.6" dy="-0.9">)</tspan></text>
<text x="406.3" y="425.4" font-size="13.4" textLength="80.2" lengthAdjust="spacingAndGlyphs">63141M<tspan font-size="11.6" dy="-0.9">(</tspan><tspan font-size="13.4" dy="0.9">LH</tspan><tspan font-size="11.6" dy="-0.9">)</tspan></text>
<text x="649.3" y="506.6" font-size="13.4" textLength="47.4" lengthAdjust="spacingAndGlyphs">63010A</text>
<text x="749.2" y="431.5" font-size="13.4" textLength="48.5" lengthAdjust="spacingAndGlyphs">63130E</text>
<text x="738.3" y="472.7" font-size="13.4" textLength="58.6" lengthAdjust="spacingAndGlyphs">63080EA</text>
<text x="856.9" y="425.0" font-size="13.4" textLength="72.9" lengthAdjust="spacingAndGlyphs">63144<tspan font-size="11.6" dy="-0.9">(</tspan><tspan font-size="13.4" dy="0.9">RH</tspan><tspan font-size="11.6" dy="-0.9">)</tspan></text>
<text x="856.9" y="435.9" font-size="13.4" textLength="79.2" lengthAdjust="spacingAndGlyphs">63145P<tspan font-size="11.6" dy="-0.9">(</tspan><tspan font-size="13.4" dy="0.9">LH</tspan><tspan font-size="11.6" dy="-0.9">)</tspan></text>
<text x="866.2" y="484.0" font-size="13.4" textLength="46.5" lengthAdjust="spacingAndGlyphs">63010D</text>
<text x="83.3" y="366.2" font-size="13.4" textLength="62.2" lengthAdjust="spacingAndGlyphs">63080EB</text>
<text x="99.3" y="389.5" font-size="13.4" textLength="49.6" lengthAdjust="spacingAndGlyphs">63080D</text>
<text x="225.5" y="394.5" font-size="13.4" textLength="49.2" lengthAdjust="spacingAndGlyphs">63080E</text>
<text x="886.5" y="522.4" font-size="18" textLength="82.5" lengthAdjust="spacingAndGlyphs">R630003Z</text>
</g>
<g>
<path d="M664.6,233.5 L669.2,244.2" fill="none" stroke="#000" stroke-width="4"/>
<path d="M664.6,233.5 L669.2,244.2" fill="none" stroke="#fff" stroke-width="2.2" stroke-dasharray="0.7 1.5"/>
<circle cx="663.9" cy="229.1" r="5.1" fill="#000"/>
<circle cx="663.9" cy="229.1" r="2.6" fill="none" stroke="#fff" stroke-width="0.9" stroke-dasharray="1.3 1.3"/>
<path d="M662.7,229.1 h2.4" fill="none" stroke="#fff" stroke-width="0.8"/>
<path d="M829.5,224.0 L835.5,229.3" fill="none" stroke="#000" stroke-width="4"/>
<path d="M829.5,224.0 L835.5,229.3" fill="none" stroke="#fff" stroke-width="2.2" stroke-dasharray="0.7 1.5"/>
<circle cx="838.5" cy="231.9" r="5.1" fill="#000"/>
<circle cx="838.5" cy="231.9" r="2.6" fill="none" stroke="#fff" stroke-width="0.9" stroke-dasharray="1.3 1.3"/>
<path d="M837.3,231.9 h2.4" fill="none" stroke="#fff" stroke-width="0.8"/>
<path d="M830.8,471.5 L840.0,477.5" fill="none" stroke="#000" stroke-width="4"/>
<path d="M830.8,471.5 L840.0,477.5" fill="none" stroke="#fff" stroke-width="2.2" stroke-dasharray="0.7 1.5"/>
<circle cx="843.8" cy="480.2" r="5.1" fill="#000"/>
<circle cx="843.8" cy="480.2" r="2.6" fill="none" stroke="#fff" stroke-width="0.9" stroke-dasharray="1.3 1.3"/>
<path d="M842.6,480.2 h2.4" fill="none" stroke="#fff" stroke-width="0.8"/>
<path d="M611.0,494.0 L618.5,499.3" fill="none" stroke="#000" stroke-width="4"/>
<path d="M611.0,494.0 L618.5,499.3" fill="none" stroke="#fff" stroke-width="2.2" stroke-dasharray="0.7 1.5"/>
<circle cx="622.1" cy="502.3" r="5.1" fill="#000"/>
<circle cx="622.1" cy="502.3" r="2.6" fill="none" stroke="#fff" stroke-width="0.9" stroke-dasharray="1.3 1.3"/>
<path d="M620.9,502.3 h2.4" fill="none" stroke="#fff" stroke-width="0.8"/>
<path d="M423.2,176.8 L431.0,170.9" fill="none" stroke="#000" stroke-width="4"/>
<path d="M423.2,176.8 L431.0,170.9" fill="none" stroke="#fff" stroke-width="2.2" stroke-dasharray="0.7 1.5"/>
<circle cx="419.5" cy="179.2" r="5.1" fill="#000"/>
<circle cx="419.5" cy="179.2" r="2.6" fill="none" stroke="#fff" stroke-width="0.9" stroke-dasharray="1.3 1.3"/>
<path d="M418.3,179.2 h2.4" fill="none" stroke="#fff" stroke-width="0.8"/>
<path d="M471.5,332.2 L479.7,332.2 L480.2,336 L481.3,337.5 L481,339.6 L478.5,341 L472.5,341 L469.2,339.6 L468.9,337.5 L471,336 Z" fill="#000" stroke="#000" stroke-width="0.6"/>
<path d="M472.8,334.2 h2 M476.8,334.2 h2 M474.6,337.8 h2.2 M474.6,340 h2 M470.5,338.3 h1.2 M478.8,338.3 h1.2" fill="none" stroke="#fff" stroke-width="0.9"/>
<path d="M473.4,341 L473.4,350.8 L476.8,350.8 L477.8,348 L477.8,341 M473.4,348.6 L477.2,348.6" fill="none" stroke="#000" stroke-width="1"/>
<path d="M509.5,187.4 L532.4,187.4 M545.4,194.2 L557.1,202.3" fill="none" stroke="#000" stroke-width="1"/>
<path d="M532.2,186 L534.5,184.1 L538.5,184.2 L541.5,185.6 L541.6,189.3 L538,193.6 L534.8,193.6 L532,190 Z" fill="#000" stroke="#000" stroke-width="0.6"/>
<path d="M538.6,186.2 L540.6,186.8 L540.4,188.6 L538.2,188.2 Z" fill="#fff" stroke="none"/>
<path d="M534,187 l0.8,-1.2 M535.5,189.5 l1,-2.4 M534.3,191.2 l0.6,-0.9 M536.8,192.3 l0.5,-1.5" fill="none" stroke="#fff" stroke-width="0.7"/>
<path d="M538.2,189 L541.6,189.3 L545.4,194.2 L541,194.6 L538,192.6 Z" fill="#fff" stroke="#000" stroke-width="1" stroke-linejoin="round"/>
</g>
<g>
<path class="l" d="M717.6,241 L717.6,252 Q717,258 714,264"/>
<path class="l" d="M810.9,241 Q812,250 815.3,257 Q818,280 819.2,300.5"/>
<path class="l" style="stroke-width:1.8" d="M247.7,177.8 L255.2,182.2 M246.5,181.2 L254.5,185.9 M244.9,185 L253.3,189.6 M243.4,188.8 L249.5,192.4"/>
<path class="l" d="M249,177 L242.8,190.8 M256.6,181 L252.5,191.2 M249,177 L256.6,181 M242.8,190.8 L248.5,194.5"/>
</g>

<!--LABELS-->
</svg>
</body></html>
